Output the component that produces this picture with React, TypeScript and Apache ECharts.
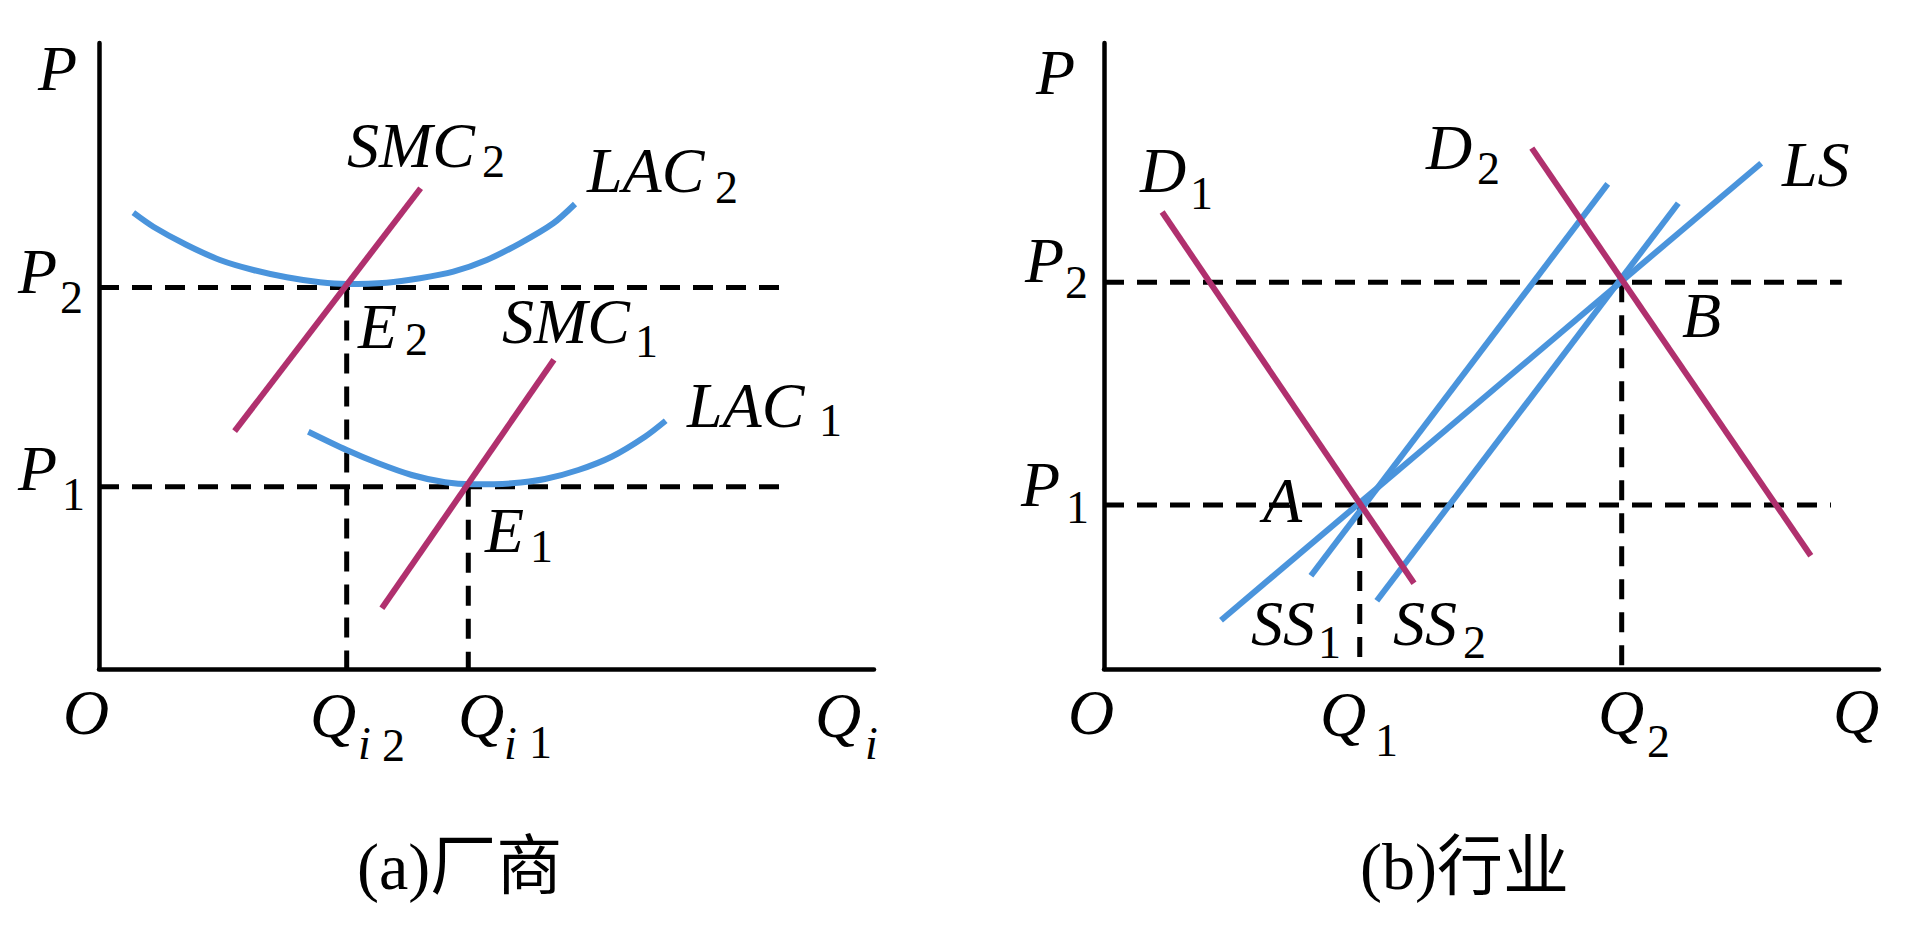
import React, { useEffect, useRef } from "react";
import * as echarts from "echarts";

const BLUE = "#4A94DC";
const MAGENTA = "#B0306E";

// ---------- panel (a) firm ----------
const firmLAC2: [number, number][] = [
  [4.43, 72.89], [7.01, 70.65], [11.32, 67.73], [15.61, 65.34], [19.91, 63.74], [24.22, 62.57],
  [28.52, 61.77], [31.96, 61.5], [37.12, 61.71], [41.42, 62.41], [45.72, 63.47], [50.03, 65.34],
  [54.32, 68.0], [58.62, 71.2], [61.42, 74.28],
];
const firmLAC1: [number, number][] = [
  [27.01, 37.91], [31.96, 34.98], [36.04, 32.86], [40.35, 30.99], [44.65, 29.82], [48.09, 29.5],
  [53.25, 29.66], [57.55, 30.35], [61.85, 31.79], [66.15, 33.91], [70.45, 37.11], [73.12, 39.66],
];
const firmSMC2: [number, number][] = [[17.5, 38.0], [41.5, 76.8]];
const firmSMC1: [number, number][] = [[36.5, 9.7], [58.7, 49.4]];
const firmPrices = [60.93, 29.12]; // P2, P1
const firmQuantities = [31.96, 47.65]; // Qi2, Qi1
const firmGuideEnds = [87.9, 87.9];

// ---------- panel (b) industry ----------
const indD1: [number, number][] = [[7.5, 73.0], [40.0, 13.7]];
const indD2: [number, number][] = [[55.2, 83.2], [91.2, 18.1]];
const indLS: [number, number][] = [[15.1, 7.8], [84.8, 80.8]];
const indSS1: [number, number][] = [[26.7, 14.9], [65.0, 77.5]];
const indSS2: [number, number][] = [[35.2, 10.9], [74.1, 74.4]];
const indPrices = [61.8, 26.2]; // P2, P1
const indQuantities = [66.8, 33.0]; // Q2, Q1
const indGuideEnds = [95.2, 93.8];

const SERIF = '"Liberation Serif", "Times New Roman", serif';
const TITLE_FAMILY = '"Liberation Serif", "Noto Sans CJK SC", serif';

function txt(text: string, x: number, y: number, size: number, italic: boolean, family = SERIF) {
  return {
    type: "text",
    x,
    y,
    silent: true,
    style: {
      text,
      fontSize: size,
      fontStyle: italic ? "italic" : "normal",
      fontFamily: family,
      fill: "#000",
      textAlign: "left",
      textVerticalAlign: "middle",
      align: "left",
      verticalAlign: "middle",
    },
  };
}
const lab = (t: string, x: number, y: number) => txt(t, x, y, 64, true);
const sub = (t: string, x: number, y: number) => txt(t, x, y, 46, false);
const subI = (t: string, x: number, y: number) => txt(t, x, y, 46, true);
const title = (t: string, x: number, y: number) => txt(t, x, y, 66, false, TITLE_FAMILY);

function line(data: [number, number][], idx: number, color: string, width: number, dashed = false, smooth: number | boolean = false) {
  return {
    type: "line",
    xAxisIndex: idx,
    yAxisIndex: idx,
    data,
    symbol: "none",
    smooth,
    clip: false,
    silent: true,
    lineStyle: dashed
      ? { color: "#000", width: 5, type: [20, 13] }
      : { color, width },
    z: dashed ? 1 : color === MAGENTA ? 3 : 2,
  };
}

function axis(idx: number) {
  return {
    gridIndex: idx,
    type: "value",
    min: 0,
    max: 100,
    axisLine: { show: true, onZero: false, lineStyle: { color: "#000", width: 4.5 } },
    axisTick: { show: false },
    axisLabel: { show: false },
    splitLine: { show: false },
  };
}

export default function App() {
  const ref = useRef<HTMLDivElement>(null);
  useEffect(() => {
    const chart = echarts.init(ref.current!, null, { renderer: "svg" });
    const series: any[] = [];
    firmPrices.forEach((p, i) => {
      series.push(line([[0, p], [firmGuideEnds[i], p]], 0, "#000", 5, true));
      series.push(line([[firmQuantities[i], p], [firmQuantities[i], 0]], 0, "#000", 5, true));
    });
    series.push(line(firmLAC2, 0, BLUE, 6, false, 0.3));
    series.push(line(firmLAC1, 0, BLUE, 6, false, 0.3));
    series.push(line(firmSMC2, 0, MAGENTA, 6));
    series.push(line(firmSMC1, 0, MAGENTA, 6));
    indPrices.forEach((p, i) => {
      series.push(line([[0, p], [indGuideEnds[i], p]], 1, "#000", 5, true));
      series.push(line([[indQuantities[i], p], [indQuantities[i], 0]], 1, "#000", 5, true));
    });
    series.push(line(indLS, 1, BLUE, 6));
    series.push(line(indSS1, 1, BLUE, 6));
    series.push(line(indSS2, 1, BLUE, 6));
    series.push(line(indD1, 1, MAGENTA, 6));
    series.push(line(indD2, 1, MAGENTA, 6));

    const graphics: any[] = [
      // panel a
      lab("P", 38, 68),
      lab("P", 18, 271), sub("2", 60, 297),
      lab("P", 18, 468), sub("1", 62, 494),
      lab("SMC", 347, 145), sub("2", 482, 161),
      lab("LAC", 587, 170), sub("2", 715, 187),
      lab("E", 358, 326), sub("2", 405, 339),
      lab("SMC", 502, 321), sub("1", 635, 341),
      lab("LAC", 687, 405), sub("1", 819, 420),
      lab("E", 485, 530), sub("1", 530, 546),
      lab("O", 63, 712),
      lab("Q", 310, 715), subI("i", 358, 743), sub("2", 382, 745),
      lab("Q", 458, 715), subI("i", 504, 743), sub("1", 529, 742),
      lab("Q", 815, 715), subI("i", 865, 743),
      title("(a)厂商", 357, 866),
      // panel b
      lab("P", 1036, 72),
      lab("P", 1025, 260), sub("2", 1065, 282),
      lab("P", 1021, 484), sub("1", 1066, 507),
      lab("D", 1140, 170), sub("1", 1190, 193),
      lab("D", 1426, 147), sub("2", 1477, 168),
      lab("LS", 1782, 164),
      lab("B", 1682, 315),
      lab("A", 1263, 500),
      lab("SS", 1251, 623), sub("1", 1318, 642),
      lab("SS", 1393, 623), sub("2", 1463, 642),
      lab("O", 1068, 712),
      lab("Q", 1320, 714), sub("1", 1375, 740),
      lab("Q", 1598, 712), sub("2", 1647, 741),
      lab("Q", 1833, 711),
      title("(b)行业", 1360, 866),
    ];

    chart.setOption({
      animation: false,
      backgroundColor: "#fff",
      grid: [
        { left: 99, top: 43, width: 775, height: 626 },
        { left: 1104, top: 43, width: 775, height: 626 },
      ],
      xAxis: [axis(0), axis(1)],
      yAxis: [axis(0), axis(1)],
      series,
      graphic: graphics,
    });
    return () => chart.dispose();
  }, []);
  return (
    <div
      ref={ref}
      style={{ position: "fixed", left: 0, top: 0, width: 1926, height: 945, background: "#fff" }}
    />
  );
}
